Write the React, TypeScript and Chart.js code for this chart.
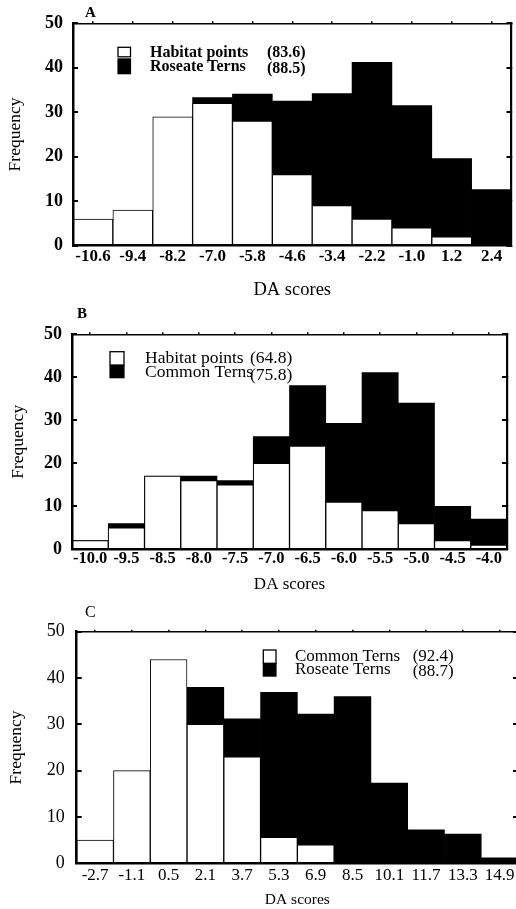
import React, { useEffect, useRef } from 'react';
import { Chart, registerables } from 'chart.js';

Chart.register(...registerables);

// ---------- DATA ----------
// Panel A
const catsA = ['-10.6', '-9.4', '-8.2', '-7.0', '-5.8', '-4.6', '-3.4', '-2.2', '-1.0', '1.2', '2.4'];
const habitatA = [6, 8, 29, 32, 28, 16, 9, 6, 4, 2, 0];
const roseateA = [0, 0, 0, 33.3, 34.1, 32.5, 34.2, 41.2, 31.5, 19.6, 12.6];
const legendNamesA = ['Habitat points', 'Roseate Terns'];
const legendValuesA = ['(83.6)', '(88.5)'];

// Panel B
const catsB = ['-10.0', '-9.5', '-8.5', '-8.0', '-7.5', '-7.0', '-6.5', '-6.0', '-5.5', '-5.0', '-4.5', '-4.0'];
const habitatB = [2, 5, 17, 16, 15, 20, 24, 11, 9, 6, 2, 1];
const commonB = [2, 6, 17, 17, 16, 26.2, 38.1, 29.3, 41.1, 34, 10, 7];
const legendNamesB = ['Habitat points', 'Common Terns'];
const legendValuesB = ['(64.8)', '(75.8)'];

// Panel C
const catsC = ['-2.7', '-1.1', '0.5', '2.1', '3.7', '5.3', '6.9', '8.5', '10.1', '11.7', '13.3', '14.9'];
const commonC = [5, 20, 44, 30, 23, 5.6, 4, 0, 0, 0, 0, 0];
const roseateC = [0, 0, 0, 38, 31.2, 36.9, 32.2, 36, 17.3, 7.2, 6.3, 1.2];
const legendNamesC = ['Common Terns', 'Roseate Terns'];
const legendValuesC = ['(92.4)', '(88.7)'];

const panelLetters = ['A', 'B', 'C'];
const xTitle = 'DA scores';
const yTitle = 'Frequency';
const yMin = 0;
const yMax = 50;
const yStep = 10;

// ---------- STYLE / LAYOUT ----------
const FONT = "'Liberation Serif', 'Times New Roman', serif";

type Layout = {
  top: number; width: number; height: number;
  padLeft: number; padRight: number; padTop: number;
  yW: number; xH: number; xTickPad: number; yTickPad: number;
  yTickFont: any; xTickFont: any; xTitleFont: any; yTitleFont: any;
  letterFont: string; letterX: number; letterY: number;
  legendFont: string;
  boxX: number; boxW: number; box1Y: number; box1H: number; box2Y: number; box2H: number;
  textX: number; textY: number[]; valX: number; valY: number[];
};

const layoutA: Layout = {
  top: 0, width: 516, height: 301,
  padLeft: 5, padRight: 4.5, padTop: 23.3,
  yW: 68, xH: 55.3, xTickPad: 1, yTickPad: 10,
  yTickFont: { family: FONT, size: 18, weight: 'bold' },
  xTickFont: { family: FONT, size: 17, weight: 'bold' },
  xTitleFont: { family: FONT, size: 18.5, weight: 'normal' },
  yTitleFont: { family: FONT, size: 17.5, weight: 'normal' },
  letterFont: `bold 15px ${FONT}`, letterX: 85, letterY: 17,
  legendFont: `bold 16px ${FONT}`,
  boxX: 45, boxW: 12.5, box1Y: 24, box1H: 9.5, box2Y: 35, box2H: 16,
  textX: 77, textY: [33.4, 47.7], valX: 194, valY: [33.4, 49.4],
};

const layoutB: Layout = {
  top: 301, width: 516, height: 294,
  padLeft: 8, padRight: 9, padTop: 33.3,
  yW: 64, xH: 45.7, xTickPad: 0, yTickPad: 10,
  yTickFont: { family: FONT, size: 18, weight: 'bold' },
  xTickFont: { family: FONT, size: 16.5, weight: 'bold' },
  xTitleFont: { family: FONT, size: 17, weight: 'normal' },
  yTitleFont: { family: FONT, size: 17.5, weight: 'normal' },
  letterFont: `bold 15px ${FONT}`, letterX: 77, letterY: 17,
  legendFont: `17.5px ${FONT}`,
  boxX: 38, boxW: 14, box1Y: 17.4, box1H: 13.3, box2Y: 30.7, box2H: 13.3,
  textX: 73, textY: [29, 43], valX: 178, valY: [29, 46],
};

const layoutC: Layout = {
  top: 595, width: 524, height: 314,
  padLeft: 6, padRight: 6, padTop: 36.7,
  yW: 70.7, xH: 45.7, xTickPad: 2, yTickPad: 12,
  yTickFont: { family: FONT, size: 18, weight: 'normal' },
  xTickFont: { family: FONT, size: 17, weight: 'normal' },
  xTitleFont: { family: FONT, size: 15.5, weight: 'normal' },
  yTitleFont: { family: FONT, size: 17.5, weight: 'normal' },
  letterFont: `16px ${FONT}`, letterX: 85, letterY: 22,
  legendFont: `17px ${FONT}`,
  boxX: 186.6, boxW: 12.7, box1Y: 18.3, box1H: 13.3, box2Y: 31.6, box2H: 13.4,
  textX: 218.3, textY: [29.3, 42.3], valX: 336, valY: [29, 44.3],
};

const decorPlugin = {
  id: 'decor',
  afterDraw(chart: any, _args: any, opts: any) {
    const ctx = chart.ctx as CanvasRenderingContext2D;
    const a = chart.chartArea;
    const L: Layout = opts.layout;
    ctx.save();
    ctx.fillStyle = '#000';
    ctx.textAlign = 'left';
    ctx.textBaseline = 'alphabetic';
    ctx.font = L.letterFont;
    ctx.fillText(opts.letter, L.letterX, L.letterY);
    // legend boxes
    ctx.fillStyle = '#fff';
    ctx.fillRect(a.left + L.boxX, a.top + L.box1Y, L.boxW, L.box1H);
    ctx.strokeStyle = '#000';
    ctx.lineWidth = 1.3;
    ctx.strokeRect(a.left + L.boxX, a.top + L.box1Y, L.boxW, L.box1H);
    ctx.fillStyle = '#000';
    ctx.fillRect(a.left + L.boxX - 0.6, a.top + L.box2Y, L.boxW + 1.2, L.box2H);
    ctx.font = L.legendFont;
    (opts.names as string[]).forEach((n, i) => ctx.fillText(n, a.left + L.textX, a.top + L.textY[i]));
    (opts.values as string[]).forEach((v, i) => ctx.fillText(v, a.left + L.valX, a.top + L.valY[i]));
    ctx.restore();
  },
};

function makeConfig(
  cats: string[], white: number[], black: number[],
  names: string[], values: string[], letter: string, L: Layout,
): any {
  const barBase = {
    grouped: false,
    categoryPercentage: 1,
    barPercentage: 1,
    borderSkipped: 'start',
  };
  return {
    type: 'bar',
    data: {
      labels: cats,
      datasets: [
        { ...barBase, label: names[0], data: white, backgroundColor: '#fff', borderColor: '#000', borderWidth: 1, order: 0 },
        { ...barBase, label: names[1], data: black, backgroundColor: '#000', borderColor: '#000', borderWidth: 0, order: 1 },
      ],
    },
    options: {
      responsive: false,
      animation: false,
      devicePixelRatio: 1,
      layout: { padding: { left: L.padLeft, right: L.padRight, top: L.padTop, bottom: 0 } },
      plugins: {
        legend: { display: false },
        tooltip: { enabled: false },
        title: { display: false },
        decor: { layout: L, names, values, letter },
      },
      scales: {
        x: {
          type: 'category',
          position: 'bottom',
          offset: true,
          grid: { display: false, drawTicks: false },
          border: { display: true, width: 2.5, color: '#000', z: 1 },
          ticks: { color: '#000', font: L.xTickFont, padding: L.xTickPad, maxRotation: 0, minRotation: 0, autoSkip: false },
          title: { display: true, text: xTitle, color: '#000', font: L.xTitleFont, padding: 0 },
          afterFit: (s: any) => { s.height = L.xH; s.paddingLeft = 0; s.paddingRight = 0; },
        },
        x2: {
          type: 'category',
          labels: cats,
          position: 'top',
          offset: true,
          grid: { display: true, drawOnChartArea: false, offset: false, drawTicks: true, tickLength: 2, color: '#000', lineWidth: 1.5, z: 1 },
          border: { display: true, width: 1.6, color: '#000', z: 1 },
          ticks: { display: false },
          afterFit: (s: any) => { s.height = 0; s.paddingLeft = 0; s.paddingRight = 0; },
        },
        y: {
          type: 'linear',
          position: 'left',
          min: yMin,
          max: yMax,
          ticks: { stepSize: yStep, color: '#000', font: L.yTickFont, padding: L.yTickPad + 5 },
          grid: { display: true, drawOnChartArea: false, drawTicks: true, tickLength: -5, color: '#000', lineWidth: 2, z: 1 },
          border: { display: true, width: 2.5, color: '#000', z: 1 },
          title: { display: true, text: yTitle, color: '#000', font: L.yTitleFont, padding: 0 },
          afterFit: (s: any) => { s.width = L.yW; s.paddingTop = 0; s.paddingBottom = 0; },
        },
        y2: {
          type: 'linear',
          position: 'right',
          min: yMin,
          max: yMax,
          ticks: { display: false, stepSize: yStep },
          grid: { display: true, drawOnChartArea: false, drawTicks: true, tickLength: -5, color: '#000', lineWidth: 2, z: 1 },
          border: { display: true, width: 2.2, color: '#000', z: 1 },
          afterFit: (s: any) => { s.width = 0; s.paddingTop = 0; s.paddingBottom = 0; },
        },
      },
    },
    plugins: [decorPlugin],
  };
}

function Panel(props: { cfg: () => any; L: Layout }) {
  const ref = useRef<HTMLCanvasElement | null>(null);
  useEffect(() => {
    if (!ref.current) return;
    const chart = new Chart(ref.current, props.cfg());
    return () => chart.destroy();
  }, []);
  const { L } = props;
  return (
    <canvas
      ref={ref}
      width={L.width}
      height={L.height}
      style={{ position: 'absolute', left: 0, top: L.top, width: L.width, height: L.height, display: 'block' }}
    />
  );
}

export default function App() {
  return (
    <div style={{ position: 'fixed', left: 0, top: 0, width: 516, height: 909, overflow: 'hidden', background: '#fff' }}>
      <Panel L={layoutA} cfg={() => makeConfig(catsA, habitatA, roseateA, legendNamesA, legendValuesA, panelLetters[0], layoutA)} />
      <Panel L={layoutB} cfg={() => makeConfig(catsB, habitatB, commonB, legendNamesB, legendValuesB, panelLetters[1], layoutB)} />
      <Panel L={layoutC} cfg={() => makeConfig(catsC, commonC, roseateC, legendNamesC, legendValuesC, panelLetters[2], layoutC)} />
    </div>
  );
}
